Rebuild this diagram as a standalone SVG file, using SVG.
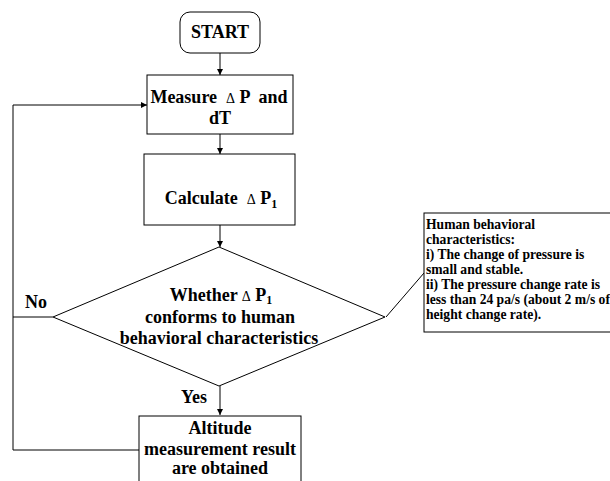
<svg xmlns="http://www.w3.org/2000/svg" width="610" height="481" viewBox="0 0 610 481">
<style>
.box{fill:#fff;stroke:#000;stroke-width:1}
.t{font-family:"Liberation Serif","Times New Roman",serif;font-weight:bold;font-size:18px;fill:#000;text-anchor:middle}
.c{font-family:"Liberation Serif","Times New Roman",serif;font-weight:bold;font-size:13.6px;fill:#000}
.d{font-weight:normal;font-size:14px}
.s{font-size:12px}
.ln{fill:none;stroke:#000;stroke-width:1}
</style>
<defs>
<marker id="ar" viewBox="0 0 8 8" refX="8" refY="4" markerWidth="6" markerHeight="6" orient="auto" markerUnits="userSpaceOnUse">
<path d="M0,0 L8,4 L0,8 z" fill="#000"/>
</marker>
</defs>
<rect width="610" height="481" fill="#fff"/>
<g id="connectors">
<line class="ln" x1="220" y1="53" x2="220" y2="75" marker-end="url(#ar)"/>
<line class="ln" x1="220" y1="134" x2="220" y2="154" marker-end="url(#ar)"/>
<line class="ln" x1="220" y1="225" x2="220" y2="247" marker-end="url(#ar)"/>
<line class="ln" x1="220" y1="386" x2="220" y2="415" marker-end="url(#ar)"/>
<polyline class="ln" points="139,450 13,450 13,105 147,105" marker-end="url(#ar)"/>
<line class="ln" x1="53" y1="317" x2="13" y2="317"/>
<line class="ln" x1="386" y1="317" x2="424" y2="273"/>
<text class="t" x="36" y="308">No</text>
<text class="t" x="194" y="403">Yes</text>
</g>
<g id="start">
<rect class="box" x="180" y="12" width="80" height="41" rx="10"/>
<text class="t" x="220" y="38">START</text>
</g>
<g id="measure">
<rect class="box" x="147" y="75" width="146" height="59"/>
<text class="t" x="219" y="103" xml:space="preserve">Measure  <tspan class="d">Δ</tspan> P  and</text>
<text class="t" x="220" y="124">dT</text>
</g>
<g id="calculate">
<rect class="box" x="144" y="154" width="151" height="71"/>
<text class="t" x="221" y="204" xml:space="preserve">Calculate  <tspan class="d">Δ</tspan> P<tspan class="s" dy="4">1</tspan></text>
</g>
<g id="decision">
<polygon class="box" points="219,247 385,317 219,386 53,317"/>
<text class="t" x="221" y="301" xml:space="preserve">Whether <tspan class="d">Δ</tspan> P<tspan class="s" dy="3">1</tspan></text>
<text class="t" x="220" y="323">conforms to human</text>
<text class="t" x="219" y="344">behavioral characteristics</text>
</g>
<g id="result">
<rect class="box" x="139" y="416" width="162" height="80"/>
<text class="t" x="220" y="434">Altitude</text>
<text class="t" x="220" y="455">measurement result</text>
<text class="t" x="220" y="474">are obtained</text>
</g>
<g id="note">
<rect class="box" x="424" y="213" width="200" height="119"/>
<text class="c" x="426" y="229">Human behavioral</text>
<text class="c" x="426" y="244">characteristics:</text>
<text class="c" x="426" y="259">i) The change of pressure is</text>
<text class="c" x="426" y="274">small and stable.</text>
<text class="c" x="426" y="289">ii) The pressure change rate is</text>
<text class="c" x="426" y="304">less than 24 pa/s (about 2 m/s of</text>
<text class="c" x="426" y="319">height change rate).</text>
</g>
</svg>
